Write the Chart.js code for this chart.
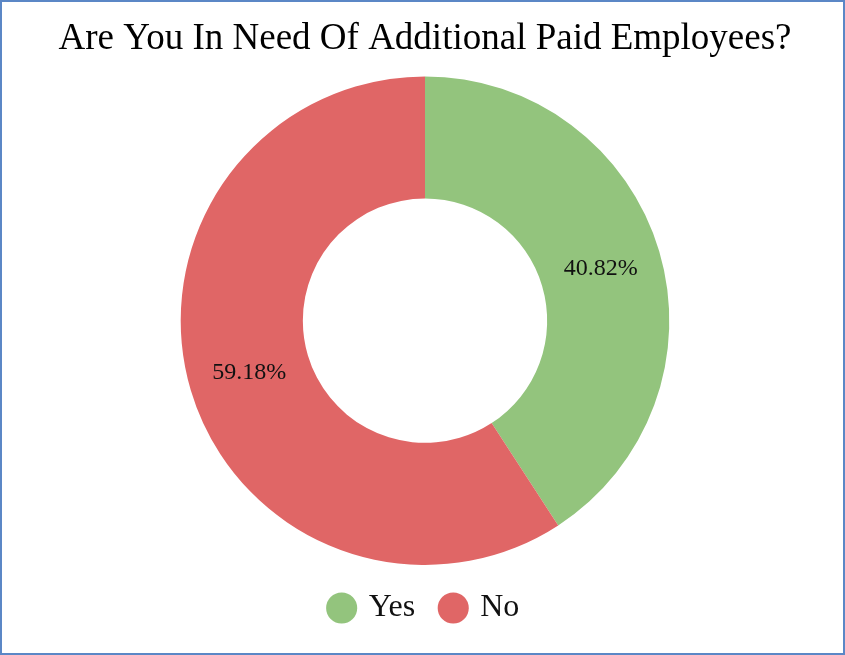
<!DOCTYPE html>
<html>
<head>
<meta charset="utf-8">
<script src="https://cdn.jsdelivr.net/npm/chart.js@4.4.0/dist/chart.umd.min.js"></script>
<style>
    html, body { margin: 0; padding: 0; background: #ffffff; }
    #frame {
        width: 845px;
        height: 655px;
        box-sizing: border-box;
        border: 2px solid #5b87c6;
        background: #ffffff;
    }
    #frame canvas { display: block; }
</style>
</head>
<body>
<div id="frame">
    <canvas id="needChart" width="841" height="651"></canvas>
</div>
<script>
const answers = ['Yes', 'No'];
const shares = [40.82, 59.18];
const sliceColors = ['#93c47d', '#e06666'];

const serif = '"Liberation Serif", "Times New Roman", serif';

// writes the percentage in the middle of each ring segment
const sliceLabels = {
    id: 'sliceLabels',
    afterDatasetsDraw(chart) {
        const ctx = chart.ctx;
        const meta = chart.getDatasetMeta(0);
        ctx.save();
        ctx.font = '24px ' + serif;
        ctx.fillStyle = '#111111';
        ctx.textAlign = 'center';
        ctx.textBaseline = 'middle';
        meta.data.forEach((arc, i) => {
            const pos = arc.tooltipPosition();
            ctx.fillText(shares[i].toFixed(2) + '%', pos.x, pos.y);
        });
        ctx.restore();
    }
};

const ctx = document.getElementById('needChart').getContext('2d');
new Chart(ctx, {
    type: 'doughnut',
    data: {
        labels: answers,
        datasets: [{
            data: shares,
            backgroundColor: sliceColors,
            borderWidth: 0,
            hoverOffset: 0
        }]
    },
    options: {
        responsive: false,
        animation: false,
        cutout: '50%',
        layout: {
            padding: { left: 5, bottom: 19 }
        },
        plugins: {
            title: {
                display: true,
                text: 'Are You In Need Of Additional Paid Employees?',
                color: '#000000',
                font: { family: serif, size: 37, weight: 'normal' },
                padding: { top: 15, bottom: 15 }
            },
            legend: {
                position: 'bottom',
                labels: {
                    usePointStyle: true,
                    pointStyle: 'circle',
                    boxWidth: 22,
                    boxHeight: 22,
                    padding: 27,
                    color: '#111111',
                    font: { family: serif, size: 32 }
                }
            },
            tooltip: { enabled: false }
        }
    },
    plugins: [sliceLabels]
});
</script>
</body>
</html>
